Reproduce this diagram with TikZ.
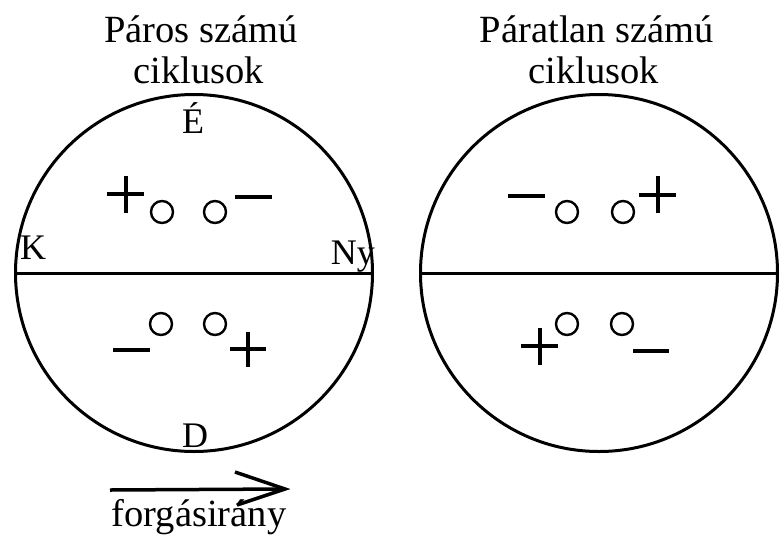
\documentclass[tikz,border=0pt]{standalone}
\usepackage{fontspec}
\setmainfont{Liberation Serif}
\begin{document}
\begin{tikzpicture}[x=1pt,y=-1pt,
  ring/.style={circle, draw, line width=3pt, minimum size=357pt, inner sep=0pt},
  dot/.style={circle, draw, line width=2.4pt, minimum size=22pt, inner sep=0pt},
  sign/.style={line width=4pt},
  title/.style={font=\fontsize{38.5}{44}\selectfont, anchor=base, inner sep=0pt},
  lab/.style={font=\fontsize{36}{40}\selectfont, anchor=base, inner sep=0pt}]
\useasboundingbox (0,0) rectangle (780,542);

% titles
\node[title] (t1a) at (201,42) {Páros számú};
\node[title] (t1b) at (199,83) {ciklusok};
\node[title] (t2a) at (597,42) {Páratlan számú};
\node[title] (t2b) at (594,83) {ciklusok};

% big circles
\node[ring] (L) at (194,273) {};
\node[ring] (R) at (599,273) {};
\draw[line width=3pt] (L.west) -- (L.east);
\draw[line width=3pt] (R.west) -- (R.east);

% labels
\node[lab] (E) at (193,133) {É};
\node[lab, anchor=base west] (K) at (20,259) {K};
\node[lab, anchor=base east] (Ny) at (375,264) {Ny};
\node[lab] (D) at (195,447) {D};

% small circles
\node[dot] (a1) at (162,212) {};
\node[dot] (a2) at (215,212) {};
\node[dot] (b1) at (161,324) {};
\node[dot] (b2) at (215,324) {};
\node[dot] (c1) at (567,212) {};
\node[dot] (c2) at (623,212) {};
\node[dot] (d1) at (567,324) {};
\node[dot] (d2) at (622,324) {};

% signs: left top
\draw[sign] (107,194) -- (144,194) (125.5,176) -- (125.5,213);
\draw[sign] (235,197) -- (272,197);
% left bottom
\draw[sign] (113,350) -- (150,350);
\draw[sign] (230,349) -- (266,349) (248,332) -- (248,367);
% right top
\draw[sign] (508,196) -- (545,196);
\draw[sign] (639,195) -- (676,195) (657.5,176) -- (657.5,213);
% right bottom
\draw[sign] (521,346) -- (558,346) (539.5,328) -- (539.5,365);
\draw[sign] (633,351) -- (669,351);

% rotation arrow
\coordinate (s) at (110,490);
\coordinate (tip) at (285,489);
\coordinate (u) at (235,472);
\coordinate (l) at (237,505);
\draw[line width=3.5pt] (s) -- (tip);
\draw[line width=3.5pt, line join=miter] (u) -- (tip) -- (l);
\node[title] (f) at (199,526) {forgásirány};
\end{tikzpicture}
\end{document}
